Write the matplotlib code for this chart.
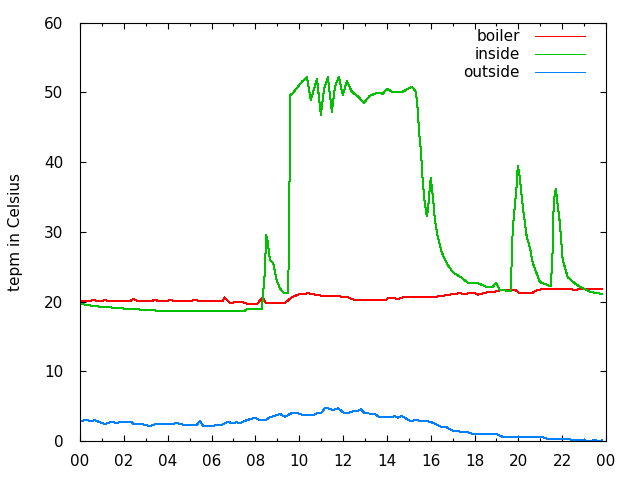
import matplotlib
matplotlib.use("Agg")
import matplotlib.pyplot as plt
from matplotlib.ticker import MultipleLocator

# hours since midnight and temperatures
boiler_h = [0, 0.5, 0.61, 0.75, 1.05, 1.14, 1.25, 2.3, 2.43, 2.6, 3.3, 3.42, 3.55, 4.0, 4.1,
            4.25, 5.1, 5.24, 5.4, 6.5, 6.6, 6.85, 7.3, 7.52, 7.75, 8.06, 8.33, 8.48, 9.35,
            9.65, 9.95, 10.41, 10.87, 11.25, 12.16, 12.54, 13.0, 13.07, 13.98, 14.06, 14.36,
            14.44, 14.74, 16.04, 16.42, 16.72, 17.02, 17.33, 17.56, 17.93, 18.16, 18.39,
            18.54, 18.92, 19.15, 19.76, 19.84, 20.06, 20.29, 20.67, 20.82, 21.13, 22.42,
            22.53, 22.8, 23.83]
boiler_t = [20.1, 20.1, 20.3, 20.1, 20.1, 20.3, 20.1, 20.1, 20.4, 20.1, 20.1, 20.3, 20.1,
            20.1, 20.3, 20.1, 20.1, 20.3, 20.1, 20.1, 20.6, 19.8, 20.0, 19.8, 19.6, 19.6,
            20.6, 19.8, 19.8, 20.6, 21.0, 21.2, 20.9, 20.8, 20.7, 20.2, 20.2, 20.3, 20.3,
            20.5, 20.5, 20.3, 20.6, 20.6, 20.8, 20.9, 21.1, 21.2, 21.1, 21.3, 21.0, 21.2,
            21.3, 21.4, 21.6, 21.6, 21.7, 21.2, 21.2, 21.3, 21.6, 21.8, 21.8, 21.6, 21.8,
            21.8]

inside_h = [0, 0.36, 0.82, 2.05, 3.56, 7.52, 7.6, 8.3, 8.45, 8.48, 8.54, 8.59, 8.66, 8.82,
            8.97, 9.12, 9.3, 9.5, 9.55, 9.6, 9.71, 10.12, 10.35, 10.53, 10.81, 10.99, 11.13,
            11.31, 11.49, 11.63, 11.81, 11.99, 12.17, 12.4, 12.68, 12.95, 13.22, 13.54,
            13.82, 14.0, 14.23, 14.73, 14.96, 15.14, 15.32, 15.41, 15.46, 15.55, 15.64,
            15.73, 15.82, 15.87, 16.0, 16.1, 16.19, 16.32, 16.51, 16.73, 17.01, 17.42,
            17.69, 18.1, 18.56, 18.83, 18.97, 19.15, 19.65, 19.74, 19.93, 19.97, 20.06,
            20.2, 20.38, 20.52, 20.66, 20.98, 21.48, 21.57, 21.61, 21.71, 21.75, 21.89,
            22.02, 22.25, 22.66, 23.26, 23.8]
inside_t = [19.7, 19.5, 19.3, 19.0, 18.7, 18.7, 18.9, 18.9, 25.0, 29.6, 29.1, 27.9, 26.0,
            25.5, 23.1, 21.9, 21.2, 21.2, 35.0, 49.6, 49.9, 51.5, 52.2, 48.9, 51.9, 46.8,
            50.4, 52.2, 47.2, 50.8, 52.2, 49.6, 51.6, 50.1, 49.4, 48.5, 49.5, 49.9, 49.8,
            50.5, 50.1, 50.1, 50.5, 50.8, 50.1, 47.5, 44.6, 41.8, 37.0, 34.1, 32.3, 33.1,
            37.7, 35.0, 31.7, 29.3, 27.0, 25.5, 24.2, 23.4, 22.7, 22.7, 22.1, 22.1, 22.7,
            21.7, 21.5, 30.3, 37.0, 39.5, 37.9, 33.6, 29.3, 27.8, 25.5, 22.8, 22.2, 27.8,
            34.3, 36.2, 35.0, 31.3, 26.0, 23.5, 22.4, 21.4, 21.1]

outside_h = [0, 0.3, 0.53, 0.68, 0.91, 1.14, 1.37, 1.67, 1.9, 2.36, 2.43, 2.74, 2.96, 3.15,
             3.42, 4.18, 4.41, 4.64, 4.86, 5.32, 5.47, 5.62, 6.46, 6.76, 6.92, 7.14, 7.3,
             7.6, 7.98, 8.13, 8.44, 8.66, 9.12, 9.35, 9.65, 9.95, 10.18, 10.56, 10.64,
             10.87, 11.02, 11.17, 11.32, 11.55, 11.78, 12.01, 12.23, 12.46, 12.64, 12.81,
             13.0, 13.45, 13.68, 14.21, 14.36, 14.51, 14.67, 14.82, 15.05, 15.35, 15.58,
             15.96, 16.27, 16.49, 16.72, 17.02, 17.4, 17.63, 17.93, 18.39, 18.54, 18.85,
             19.0, 19.3, 19.76, 21.13, 21.36, 22.34, 22.42, 23.03, 23.1, 23.35, 23.4,
             23.56, 23.6, 23.75, 23.8]
outside_t = [2.9, 3.0, 2.9, 3.0, 2.7, 2.45, 2.7, 2.65, 2.7, 2.7, 2.5, 2.45, 2.35, 2.15, 2.4,
             2.4, 2.6, 2.4, 2.3, 2.3, 2.9, 2.15, 2.3, 2.8, 2.55, 2.7, 2.55, 3.0, 3.35, 3.1,
             3.0, 3.4, 3.9, 3.5, 4.0, 4.0, 3.7, 3.8, 3.7, 4.1, 4.1, 4.7, 4.7, 4.45, 4.7,
             4.1, 4.0, 4.3, 4.3, 4.55, 4.0, 3.9, 3.4, 3.4, 3.6, 3.35, 3.6, 3.35, 2.9, 3.0,
             2.9, 2.8, 2.4, 2.05, 2.0, 1.45, 1.35, 1.35, 1.0, 0.95, 1.05, 0.95, 1.0, 0.6,
             0.55, 0.55, 0.3, 0.3, 0.1, 0.1, 0.0, 0.0, 0.1, 0.1, 0.0, 0.0, 0.1]

hour_ticks = list(range(0, 25, 2))
hour_labels = ["%02d" % (h % 24) for h in hour_ticks]

plt.rcParams['font.family'] = 'DejaVu Sans'
plt.rcParams['font.size'] = 11

fig = plt.figure(figsize=(6.4, 4.8), dpi=100)
ax = fig.add_axes([0.125, 0.081, 0.822, 0.872])

ax.plot(boiler_h, boiler_t, color='#ff0000', lw=0.72, antialiased=False, label='boiler')
ax.plot(inside_h, inside_t, color='#00c000', lw=0.72, antialiased=False, label='inside')
ax.plot(outside_h, outside_t, color='#0080ff', lw=0.72, antialiased=False, label='outside')

ax.set_xlim(0, 24)
ax.set_ylim(0, 60)
ax.set_xticks(hour_ticks)
ax.set_xticklabels(hour_labels)
ax.xaxis.set_minor_locator(MultipleLocator(1))
ax.set_yticks(range(0, 61, 10))

ax.tick_params(which='both', direction='in', top=True, right=True, width=0.8, color='black')
ax.tick_params(axis='x', which='major', length=4.5, pad=9.5)
ax.tick_params(axis='x', which='minor', length=2.5)
ax.tick_params(axis='y', which='major', length=4.5, pad=12)
for side in ax.spines.values():
    side.set_linewidth(0.8)

ax.set_ylabel('tepm in Celsius')
ax.yaxis.set_label_coords(-0.108, 0.5)

ax.legend(loc='upper right', bbox_to_anchor=(0.987, 1.017), frameon=False,
          markerfirst=False, handlelength=3.3, handletextpad=1.0, labelspacing=0.2,
          borderaxespad=0.4, borderpad=0.5)

fig.savefig('out.png', dpi=100)
